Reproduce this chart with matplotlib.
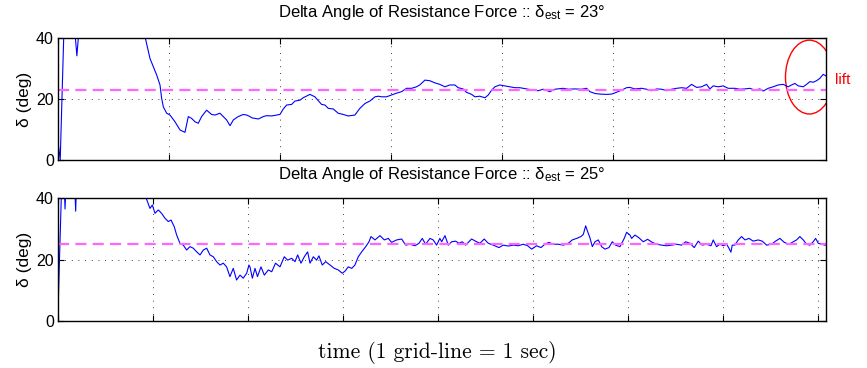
import numpy as np
import matplotlib
matplotlib.use("Agg")
import matplotlib.pyplot as plt
from matplotlib.patches import Ellipse

plt.rcParams['font.family'] = ['Liberation Sans', 'DejaVu Sans']
plt.rcParams['mathtext.default'] = 'regular'

# top run: delta_est = 23 deg
t1 = [0.0, 0.02, 0.055, 0.08, 0.14, 0.155, 0.17, 0.185, 0.2, 0.5, 0.76,
      0.784, 0.829, 0.859, 0.889, 0.919, 0.934, 0.949, 0.979, 1.009, 1.054,
      1.099, 1.144, 1.174, 1.204, 1.234, 1.264, 1.294, 1.339, 1.384, 1.414,
      1.459, 1.489, 1.519, 1.55, 1.58, 1.624, 1.67, 1.70, 1.73, 1.745,
      1.805, 1.85, 1.88, 1.925, 1.97, 2.0, 2.03, 2.06, 2.105, 2.135, 2.18,
      2.21, 2.27, 2.315, 2.375, 2.405, 2.435, 2.48, 2.525, 2.57, 2.615,
      2.675, 2.72, 2.766, 2.81, 2.856, 2.886, 2.916, 2.96, 3.006, 3.05,
      3.096, 3.14, 3.186, 3.23, 3.26, 3.306, 3.35, 3.396, 3.44, 3.486, 3.53,
      3.576, 3.606, 3.65, 3.68, 3.727, 3.757, 3.80, 3.847, 3.877, 3.907,
      3.937, 3.98, 4.027, 4.072, 4.117, 4.162, 4.222, 4.282, 4.327, 4.372,
      4.432, 4.477, 4.552, 4.597, 4.658, 4.718, 4.763, 4.793, 4.838, 4.883,
      4.943, 4.988, 5.033, 5.078, 5.123, 5.153, 5.198, 5.258, 5.303, 5.348,
      5.394, 5.439, 5.484, 5.529, 5.574, 5.619, 5.664, 5.709, 5.754, 5.799,
      5.844, 5.874, 5.904, 5.949, 5.994, 6.039, 6.099, 6.144, 6.189, 6.234,
      6.279, 6.324, 6.354, 6.399, 6.444, 6.489, 6.534, 6.579, 6.61, 6.64,
      6.67, 6.715, 6.745, 6.775, 6.805, 6.835, 6.865, 6.895, 6.919]
d1 = [6.0, 0.0, 45, 60, 55, 41, 34.3, 41, 55, 70, 50,
      40.6, 33.4, 30.7, 28.0, 24.7, 20.3, 17.5, 15.4, 14.8, 12.6,
      9.9, 9.1, 14.3, 13.7, 12.6, 12.1, 14.3, 16.4, 15.0, 14.8,
      15.4, 14.3, 13.2, 11.3, 13.2, 14.3, 15.0, 14.8, 14.3, 13.9,
      13.5, 14.3, 14.6, 14.5, 14.8, 15.0, 16.8, 18.1, 18.3, 19.4, 19.7,
      20.5, 21.6, 20.8, 18.3, 18.1, 17.0, 16.8, 15.4, 15.0, 14.5,
      14.8, 17.0, 18.6, 19.4, 20.8, 21.0, 20.8, 20.8, 21.4, 22.0,
      22.5, 23.6, 23.6, 24.1, 24.7, 26.3, 26.1, 25.4, 24.9, 24.1, 24.7,
      24.7, 23.8, 23.4, 22.3, 21.6, 20.8, 21.0, 20.5, 21.4, 23.0,
      24.1, 24.7, 24.4, 24.1, 23.8, 23.8, 23.4, 23.0, 22.8, 23.3,
      22.5, 23.3, 23.6, 23.3, 23.4, 23.3, 23.6, 22.5, 21.9, 21.7,
      21.6, 21.7, 22.3, 23.0, 23.8, 23.9, 23.4, 23.6, 23.3, 22.8,
      23.4, 23.3, 22.8, 23.3, 23.6, 23.8, 23.6, 24.9, 23.9, 24.1,
      24.9, 23.4, 24.4, 24.1, 24.4, 23.6, 23.6, 23.3, 23.4, 23.6,
      23.0, 23.4, 22.7, 23.6, 24.1, 24.7, 24.9, 24.1, 24.7, 25.2,
      24.4, 24.1, 24.9, 25.8, 25.6, 26.1, 26.9, 28.2, 27.7]

# bottom run: delta_est = 25 deg
t2 = [0.0, 0.004, 0.01, 0.039, 0.06, 0.074, 0.085, 0.12, 0.17, 0.186, 0.2,
      0.5, 0.9, 0.923, 0.968, 0.993, 1.021, 1.056, 1.09, 1.126, 1.161, 1.19,
      1.224, 1.249, 1.284, 1.319, 1.354, 1.389, 1.424, 1.46, 1.495, 1.53,
      1.565, 1.6, 1.635, 1.67, 1.705, 1.74, 1.775, 1.81, 1.845, 1.88, 1.916,
      1.95, 1.986, 2.01, 2.021, 2.046, 2.074, 2.10, 2.137, 2.172, 2.214,
      2.25, 2.29, 2.337, 2.382, 2.418, 2.46, 2.495, 2.523, 2.558, 2.593,
      2.628, 2.653, 2.688, 2.723, 2.747, 2.782, 2.818, 2.863, 2.909, 2.95,
      2.993, 3.021, 3.056, 3.092, 3.126, 3.161, 3.197, 3.239, 3.274, 3.295,
      3.337, 3.39, 3.435, 3.477, 3.512, 3.565, 3.618, 3.66, 3.705, 3.758,
      3.8, 3.835, 3.87, 3.916, 3.95, 3.986, 4.02, 4.039, 4.074, 4.109,
      4.144, 4.186, 4.221, 4.256, 4.292, 4.354, 4.407, 4.442, 4.487, 4.53,
      4.582, 4.642, 4.688, 4.74, 4.793, 4.845, 4.898, 4.944, 4.986, 5.039,
      5.084, 5.126, 5.168, 5.214, 5.266, 5.319, 5.372, 5.414, 5.46, 5.505,
      5.53, 5.555, 5.576, 5.60, 5.625, 5.653, 5.688, 5.723, 5.758, 5.8,
      5.835, 5.87, 5.916, 5.961, 5.986, 6.021, 6.039, 6.074, 6.116, 6.161,
      6.207, 6.256, 6.302, 6.355, 6.407, 6.46, 6.512, 6.565, 6.607, 6.653,
      6.698, 6.74, 6.782, 6.828, 6.874, 6.898, 6.933, 6.968, 7.004, 7.039,
      7.063, 7.084, 7.098, 7.126, 7.161, 7.197, 7.232, 7.274, 7.319, 7.372,
      7.414, 7.46, 7.512, 7.554, 7.6, 7.646, 7.695, 7.74, 7.775, 7.81,
      7.846, 7.88, 7.916, 7.95, 7.976, 8.004, 8.04, 8.074, 8.09]
d2 = [6.0, 7.3, 14, 45, 50, 36.5, 45, 55, 50, 35.8, 50,
      70, 50, 40.5, 36.7, 37.8, 35.1, 36.2, 35.1, 33.5, 32.4, 32.9,
      30.7, 28.0, 25.3, 24.7, 23.1, 24.2, 23.7, 22.5, 21.5, 23.1,
      23.7, 21.5, 20.9, 19.3, 18.2, 18.8, 17.6, 14.4, 17.1, 13.3, 14.9,
      13.9, 15.5, 18.2, 17.6, 13.9, 17.1, 14.4, 17.6, 14.9, 16.6,
      16.0, 18.8, 17.6, 20.9, 19.8, 20.4, 19.3, 21.5, 18.8, 20.9,
      22.5, 18.8, 20.9, 19.8, 21.2, 18.2, 19.3, 18.2, 17.1, 16.6,
      15.5, 16.2, 17.6, 17.1, 18.2, 20.9, 22.5, 24.2, 25.8, 27.5,
      26.4, 27.8, 26.4, 26.9, 25.6, 26.4, 26.7, 24.7, 25.0, 24.5,
      25.3, 26.9, 25.0, 26.9, 26.4, 24.7, 26.9, 25.8, 27.8, 24.7,
      25.8, 26.0, 25.3, 25.8, 24.7, 26.7, 25.8, 25.3, 26.7, 25.3,
      24.7, 23.9, 24.7, 24.4, 24.7, 24.5, 25.0, 24.5, 23.4, 24.5,
      23.9, 25.0, 25.6, 25.0, 25.0, 24.7, 25.3, 26.4, 26.9, 27.5,
      28.2, 31.0, 29.1, 27.1, 24.2, 25.8, 26.4, 24.2, 23.4, 23.9,
      25.8, 24.7, 24.2, 26.9, 28.9, 28.0, 26.9, 28.0, 27.1, 25.8,
      26.6, 25.6, 25.0, 24.7, 24.5, 24.7, 25.0, 24.7, 25.8, 25.3,
      23.9, 26.0, 24.7, 25.0, 24.5, 26.4, 24.2, 25.0, 24.5, 25.0,
      23.7, 22.4, 24.7, 24.7, 26.4, 27.5, 26.4, 26.9, 26.0, 26.4,
      26.0, 24.7, 25.0, 26.0, 26.9, 25.6, 25.0, 25.8, 26.4, 27.5,
      26.4, 25.0, 24.7, 25.8, 26.9, 25.3, 25.0, 24.7, 24.7]

est1, est2 = 23, 25
xmax1, xmax2 = 6.92, 8.085
yticks = [0, 20, 40]

fig = plt.figure(figsize=(8.67, 3.68), dpi=100)
ax1 = fig.add_axes([0.0669, 0.5652, 0.8858, 0.3302])
ax2 = fig.add_axes([0.0669, 0.1285, 0.8858, 0.3326])


def style(ax, xmax, est, t, d, title_y):
    ax.plot(t, d, color='blue', lw=0.8)
    ax.axhline(est, color='#ff66ff', lw=1.6, ls=(0, (5, 2.8)))
    ax.set_xlim(0, xmax)
    ax.set_ylim(0, 40)
    ax.set_xticks(np.arange(0, int(xmax) + 1))
    ax.set_yticks(yticks)
    ax.set_xticklabels([])
    ax.tick_params(direction='in', top=True, right=True, length=4,
                   width=0.8, labelsize=11.5, pad=3)
    ax.grid(True, color='black', ls=(0, (1, 7)), lw=0.6)
    for s in ax.spines.values():
        s.set_linewidth(1.0)
    ax.set_ylabel(u'\u03b4 (deg)', fontsize=12.5, labelpad=3)
    fig.text(442 / 867, 1 - title_y / 368,
             r'Delta Angle of Resistance Force :: $\delta_{est}$ = %d°' % est,
             fontsize=12, ha='center', va='baseline')


style(ax1, xmax1, est1, t1, d1, 17)
style(ax2, xmax2, est2, t2, d2, 178.5)

ell = Ellipse((6.77, 27.3), 0.43, 24.3, fill=False, edgecolor='red', lw=1.0)
ax1.add_patch(ell)
fig.text(843 / 867, 1 - 80 / 368, 'lift', color='red', fontsize=11,
         ha='center', va='center')

fig.text(437 / 867, 1 - 353 / 368, 'time (1 grid-line = 1 sec)',
         family=['cmr10', 'DejaVu Serif'], fontsize=15.5, ha='center', va='center')

fig.savefig('out.png', dpi=100)
